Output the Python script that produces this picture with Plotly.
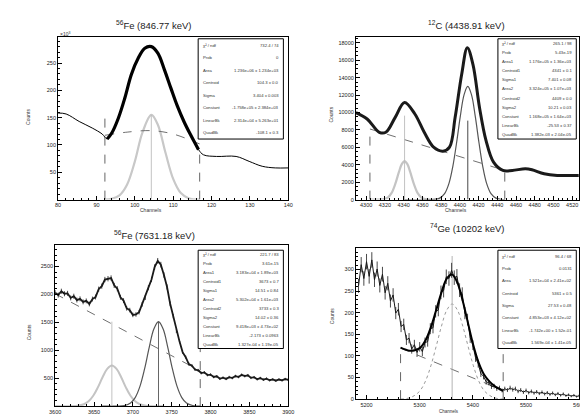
import plotly.graph_objects as go

FONT = "Liberation Sans"

# ---------------- Panel 1 : 56Fe (846.77 keV) ----------------
p1_title = "<sup>56</sup>Fe (846.77 keV)"
p1_data_x = [80, 82.1, 85.5, 88.9, 91.5, 92.8, 94.0, 95.7, 97.4, 99.1, 100.9, 102.6, 104.3, 106.0, 107.7,
             109.4, 111.1, 112.8, 114.5, 116.6, 117.9, 121.3, 126.4, 129.8, 133.2, 136.6, 140]
p1_data_y = [158.5, 156.7, 143, 131, 120, 111, 122, 149, 186, 229, 259, 277, 280, 268, 238,
             204, 171, 143, 119, 91.5, 82, 79, 79, 70, 61, 58, 58]
p1_fit_x = [92.8, 94.0, 95.7, 97.4, 99.1, 100.9, 102.6, 104.3, 106.0, 107.7, 109.4, 111.1, 112.8, 114.5, 116.6]
p1_fit_y = [111, 122, 149, 186, 229, 259, 277, 280, 268, 238, 204, 171, 143, 119, 91.5]
p1_bg_x = [92.2, 98, 104.3, 110, 116.9]
p1_bg_y = [117.7, 123.5, 126.2, 120, 101.8]
p1_g_x = [92, 94, 96, 98, 100, 102, 104.3, 106, 108, 110, 112, 114, 116.9]
p1_g_y = [0.2, 1.6, 7.9, 27.8, 69.6, 123, 155, 137, 85.7, 38, 11.9, 2.6, 0.1]
p1_vlines_x = [92.2, 104.3, 116.9]
p1_vlines_top = [149, 155, 88]
p1_stat_names = ["χ² / ndf", "Prob", "Area", "Centroid", "Sigma", "Constant", "LinearBk", "QuadBk"]
p1_stat_vals = ["732.4 / 74", "0", "1.236e+06 ± 1.234e+03", "104.3 ± 0.0", "3.404 ± 0.003",
                "-1.758e+05 ± 2.384e+03", "2.314e+04 ± 5.263e+01", "-108.1 ± 0.3"]

# ---------------- Panel 2 : 12C (4438.91 keV) ----------------
p2_title = "<sup>12</sup>C (4438.91 keV)"
p2_data_x = [4289, 4301, 4314, 4321, 4331, 4341, 4352, 4362, 4372, 4382, 4389, 4395, 4402, 4408,
             4414, 4421, 4428, 4436, 4446, 4456, 4470, 4477, 4490, 4504, 4527]
p2_data_y = [10000, 9260, 7730, 7730, 9450, 11160, 9830, 7730, 6020, 5560, 6020, 9450, 14400, 17450,
             15540, 10590, 6780, 4300, 3350, 3350, 3540, 3430, 2970, 2780, 2780]
p2_bg_x = [4304, 4376, 4448]
p2_bg_y = [8110, 5700, 3350]
p2_g1_x = [4304, 4319, 4323, 4327, 4331, 4335, 4338, 4341, 4344, 4347, 4351, 4355, 4359, 4363, 4380]
p2_g1_y = [0, 53, 229, 738, 1774, 3182, 4071, 4420, 4071, 3182, 1774, 738, 229, 53, 0]
p2_g2_x = [4340, 4373.5, 4378.5, 4383.5, 4388.5, 4392.5, 4396.5, 4400.5, 4404.5, 4408.5, 4412.5,
           4416.5, 4420.5, 4424.5, 4428.5, 4433.5, 4438.5, 4443.5, 4448]
p2_g2_y = [0, 36, 171, 647, 1898, 3796, 6500, 9555, 12037, 13000, 12037, 9555, 6500, 3796, 1898,
           647, 171, 36, 0]
p2_vlines_x = [4304, 4341, 4408.5, 4448]
p2_vlines_top = [8110, 9640, 9070, 3350]
p2_stat_names = ["χ² / ndf", "Prob", "Area1", "Centroid1", "Sigma1", "Area2", "Centroid2", "Sigma2",
                 "Constant", "LinearBk", "QuadBk"]
p2_stat_vals = ["265.1 / 98", "5.43e-19", "1.176e+05 ± 1.36e+03", "4341 ± 0.1", "7.401 ± 0.08",
                "3.324e+05 ± 1.07e+03", "4409 ± 0.0", "10.21 ± 0.03", "1.168e+05 ± 1.64e+03",
                "-25.53 ± 0.37", "1.382e-03 ± 2.04e-05"]

# ---------------- Panel 3 : 56Fe (7631.18 keV) ----------------
p3_title = "<sup>56</sup>Fe (7631.18 keV)"
p3_data_x = list(range(3600, 3904, 4))
p3_data_y = [2031, 1988, 2057, 2012, 2019, 1937, 1968, 1899, 1921, 1866, 1884, 1829, 1917, 1953,
             2094, 2148, 2266, 2281, 2293, 2162, 2101, 1948, 1889, 1752, 1718, 1633, 1641, 1682,
             1823, 1944, 2121, 2268, 2489, 2601, 2533, 2348, 2133, 1832, 1611, 1344, 1159, 967,
             876, 752, 724, 655, 641, 592, 603, 556, 564, 521, 533, 489, 508, 487, 519, 502, 538,
             521, 559, 537, 552, 506, 517, 481, 502, 473, 492, 463, 479, 455, 476, 461, 484, 470]
p3_bg_x = [3600, 3650, 3700, 3750, 3786.7]
p3_bg_y = [2012, 1642, 1272, 902, 630]
p3_g1_x = [3600, 3629, 3637, 3643, 3649, 3655, 3661, 3667, 3673, 3679, 3685, 3691, 3697, 3703,
           3709, 3717, 3740]
p3_g1_y = [0, 7, 33, 85, 185, 336, 516, 667, 727, 667, 516, 336, 185, 85, 33, 7, 0]
p3_g2_x = [3660, 3689, 3697, 3703, 3709, 3715, 3721, 3727, 3733, 3739, 3745, 3751, 3757, 3763,
           3769, 3777, 3786.7]
p3_g2_y = [0, 11, 55, 152, 348, 661, 1047, 1379, 1512, 1379, 1047, 661, 348, 152, 55, 11, 0]
p3_vlines_x = [3673, 3733, 3786.7]
p3_vlines_top = [1512, 1512, 1050]
p3_stat_names = ["χ² / ndf", "Prob", "Area1", "Centroid1", "Sigma1", "Area2", "Centroid2", "Sigma2",
                 "Constant", "LinearBk", "QuadBk"]
p3_stat_vals = ["221.7 / 83", "3.61e-15", "3.183e+04 ± 1.89e+03", "3673 ± 0.7", "14.51 ± 0.84",
                "5.302e+04 ± 1.61e+03", "3733 ± 0.3", "14.02 ± 0.36", "9.418e+03 ± 4.73e+02",
                "-2.173 ± 0.0963", "1.327e-04 ± 1.19e-05"]

# ---------------- Panel 4 : 74Ge (10202 keV) ----------------
p4_title = "<sup>74</sup>Ge (10202 keV)"
p4_data_x = list(range(5185, 5605, 5))
p4_data_y = [262, 311, 279, 318, 284, 322, 276, 301, 263, 289, 246, 268, 227, 241, 199, 208, 168,
             173, 137, 141, 116, 126, 108, 121, 110, 131, 133, 163, 165, 203, 206, 247, 251, 283,
             279, 298, 281, 284, 252, 243, 199, 184, 142, 125, 96, 82, 59, 53, 40, 38, 29, 30, 24,
             26, 20, 24, 21, 26, 22, 24, 18, 21, 16, 20, 15, 18, 14, 17, 13, 16, 12, 15, 11, 14,
             10, 13, 9, 12, 8, 10, 7, 9, 6, 8]
p4_fit_x = [5264, 5281, 5291, 5301, 5311, 5321, 5331, 5341, 5351, 5361, 5371, 5381, 5391, 5401,
            5411, 5421, 5431, 5441, 5457]
p4_fit_y = [119, 112, 113, 119, 136, 166, 206, 247, 279, 288, 269, 227, 175, 124, 84, 57, 41, 30, 19]
p4_bg_x = [5264, 5300, 5360, 5420, 5457]
p4_bg_y = [118, 100, 69, 39, 19]
p4_g_x = [5264, 5281, 5291, 5301, 5311, 5321, 5331, 5341, 5351, 5361, 5371, 5381, 5391, 5401,
          5411, 5421, 5431, 5441, 5457]
p4_g_y = [0, 3, 9, 20, 42, 77, 122, 169, 206, 220, 206, 169, 122, 77, 42, 20, 9, 3, 0]
p4_vlines_x = [5264, 5361, 5457]
p4_vlines_top = [118, 331, 132]
p4_stat_names = ["χ² / ndf", "Prob", "Area", "Centroid", "Sigma", "Constant", "LinearBk", "QuadBk"]
p4_stat_vals = ["96.4 / 68", "0.0131", "1.521e+04 ± 2.41e+02", "5361 ± 0.5", "27.53 ± 0.48",
                "4.853e+03 ± 4.12e+02", "-1.742e+00 ± 1.52e-01", "1.569e-04 ± 1.41e-05"]

fig = go.Figure()


def line(xs, ys, ax, color="black", width=1.0, dash="solid", shape="spline", err=False):
    kw = {}
    if err:
        kw["error_y"] = dict(type="sqrt", visible=True, color=color, thickness=0.8, width=0)
    fig.add_trace(go.Scatter(x=xs, y=ys, mode="lines", xaxis="x" + ax, yaxis="y" + ax,
                             line=dict(color=color, width=width, dash=dash, shape=shape),
                             showlegend=False, hoverinfo="skip", **kw))


def vlines(xs, tops, ax, colors, dashes):
    for xv, tv, c, d in zip(xs, tops, colors, dashes):
        line([xv, xv], [0, tv], ax, color=c, width=0.9, dash=d, shape="linear")


# Panel 1
line(p1_data_x, p1_data_y, "", color="black", width=1.0)
line(p1_g_x, p1_g_y, "", color="#c8c8c8", width=2.2)
line(p1_bg_x, p1_bg_y, "", color="#707070", width=1.0, dash="dash")
vlines(p1_vlines_x, p1_vlines_top, "", ["#555", "#bbb", "#555"], ["dash", "solid", "dash"])
line(p1_fit_x, p1_fit_y, "", color="black", width=3.2)

# Panel 2
line(p2_g1_x, p2_g1_y, "2", color="#c4c4c4", width=2.2)
line(p2_g2_x, p2_g2_y, "2", color="#555555", width=1.2)
line(p2_bg_x, p2_bg_y, "2", color="#707070", width=1.0, dash="dash", shape="linear")
vlines(p2_vlines_x, p2_vlines_top, "2", ["#555", "#bbb", "#333", "#555"], ["dash", "solid", "solid", "dash"])
line(p2_data_x, p2_data_y, "2", color="#1a1a1a", width=3.0)

# Panel 3
line(p3_g1_x, p3_g1_y, "3", color="#c4c4c4", width=2.0)
line(p3_g2_x, p3_g2_y, "3", color="#555555", width=1.2)
line(p3_bg_x, p3_bg_y, "3", color="#707070", width=1.0, dash="dash", shape="linear")
vlines(p3_vlines_x, p3_vlines_top, "3", ["#bbb", "#555", "#555"], ["solid", "solid", "dash"])
line(p3_data_x, p3_data_y, "3", color="#1a1a1a", width=1.8, shape="linear", err=True)

# Panel 4
line(p4_g_x, p4_g_y, "4", color="#9a9a9a", width=1.0, dash="dot")
line(p4_bg_x, p4_bg_y, "4", color="#707070", width=1.0, dash="dash", shape="linear")
vlines(p4_vlines_x, p4_vlines_top, "4", ["#555", "#aaa", "#555"], ["dash", "solid", "dash"])
line(p4_data_x, p4_data_y, "4", color="#1a1a1a", width=1.0, shape="linear", err=True)
line(p4_fit_x, p4_fit_y, "4", color="black", width=2.0)

W, H = 588, 414


def px(x):
    return x / W


def py(y):
    return 1 - y / H


TICKFONT = dict(size=5.5, family=FONT, color="#222")


def axis(domain, rng, anchor, dtick=None, tick0=None, minor=None, tickvals=None):
    a = dict(domain=domain, range=rng, anchor=anchor, showline=True, linecolor="black", linewidth=1,
             mirror=True, ticks="inside", ticklen=4, tickwidth=0.8, tickcolor="black",
             showgrid=False, zeroline=False, tickfont=TICKFONT, tickformat="d",
             minor=dict(ticks="inside", ticklen=2, tickcolor="black", dtick=minor, showgrid=False))
    if tickvals is not None:
        a["tickvals"] = tickvals
    else:
        a["dtick"] = dtick
        a["tick0"] = tick0
    return a


d1x = [px(45), px(280)]
d3x = [px(42), px(280)]
d2x = [px(349), px(577)]
d1y = [py(193), py(29)]
d3y = [py(401), py(239)]
d4y = [py(394), py(242)]

fig.update_layout(
    width=W, height=H, margin=dict(l=0, r=0, t=0, b=0),
    paper_bgcolor="white", plot_bgcolor="white",
    xaxis=axis(d1x, [80, 140], "y", dtick=10, tick0=80, minor=2),
    yaxis=axis(d1y, [0, 298], "x", minor=10, tickvals=[50, 100, 150, 200, 250]),
    xaxis2=axis(d2x, [4289, 4527.5], "y2", dtick=20, tick0=4300, minor=5),
    yaxis2=axis(d1y, [0, 18700], "x2", dtick=2000, tick0=0, minor=500),
    xaxis3=axis(d3x, [3600, 3900], "y3", dtick=50, tick0=3600, minor=10),
    yaxis3=axis(d3y, [0, 2880], "x3", minor=100, tickvals=[500, 1000, 1500, 2000, 2500]),
    xaxis4=axis(d2x, [5180, 5600], "y4", dtick=100, tick0=5200, minor=20),
    yaxis4=axis(d4y, [0, 349], "x4", dtick=50, tick0=0, minor=10),
)

ann = []
shapes = []


def title(text, x, y):
    ann.append(dict(text=text, x=px(x), y=py(y), xref="paper", yref="paper", showarrow=False,
                    font=dict(size=9.5, family=FONT, color="#222"), xanchor="center", yanchor="middle"))


title(p1_title, 143, 17)
title(p2_title, 462, 17)
title(p3_title, 143, 229)
title(p4_title, 462, 222)


def small(text, x, y, angle=0, size=5):
    ann.append(dict(text=text, x=px(x), y=py(y), xref="paper", yref="paper", showarrow=False,
                    textangle=angle, font=dict(size=size, family=FONT, color="#333"),
                    xanchor="center", yanchor="middle", borderpad=0))


small("Counts", 15, 110, -90)
small("Counts", 324, 107, -90)
small("Counts", 15, 327, -90)
small("Counts", 324, 310, -90)
small("Channels", 140, 203)
small("Channels", 451, 203)
small("Channels", 444, 406.5, 0, 4.5)
small("×10<sup>3</sup>", 52, 26, 0, 5)


def stats(names, vals, x0, x1, y0, y1):
    shapes.append(dict(type="rect", xref="paper", yref="paper", x0=px(x0), x1=px(x1), y0=py(y1),
                       y1=py(y0), line=dict(color="black", width=1), fillcolor="white"))
    n = len(names)
    h = (y1 - y0) / n
    for i, (nm, v) in enumerate(zip(names, vals)):
        yc = y0 + (i + 0.5) * h
        ann.append(dict(text=nm, x=px(x0 + 2.5), y=py(yc), xref="paper", yref="paper", showarrow=False,
                        xanchor="left", yanchor="middle", font=dict(size=4.2, family=FONT, color="#333")))
        ann.append(dict(text=v, x=px(x1 - 2.5), y=py(yc), xref="paper", yref="paper", showarrow=False,
                        xanchor="right", yanchor="middle", font=dict(size=4.2, family=FONT, color="#333")))


stats(p1_stat_names, p1_stat_vals, 188, 275, 31, 132)
stats(p2_stat_names, p2_stat_vals, 494, 574, 31, 132)
stats(p3_stat_names, p3_stat_vals, 188, 275, 244, 343)
stats(p4_stat_names, p4_stat_vals, 494, 574, 244, 343)

fig.update_layout(annotations=ann, shapes=shapes)
fig.write_html("out.html")
